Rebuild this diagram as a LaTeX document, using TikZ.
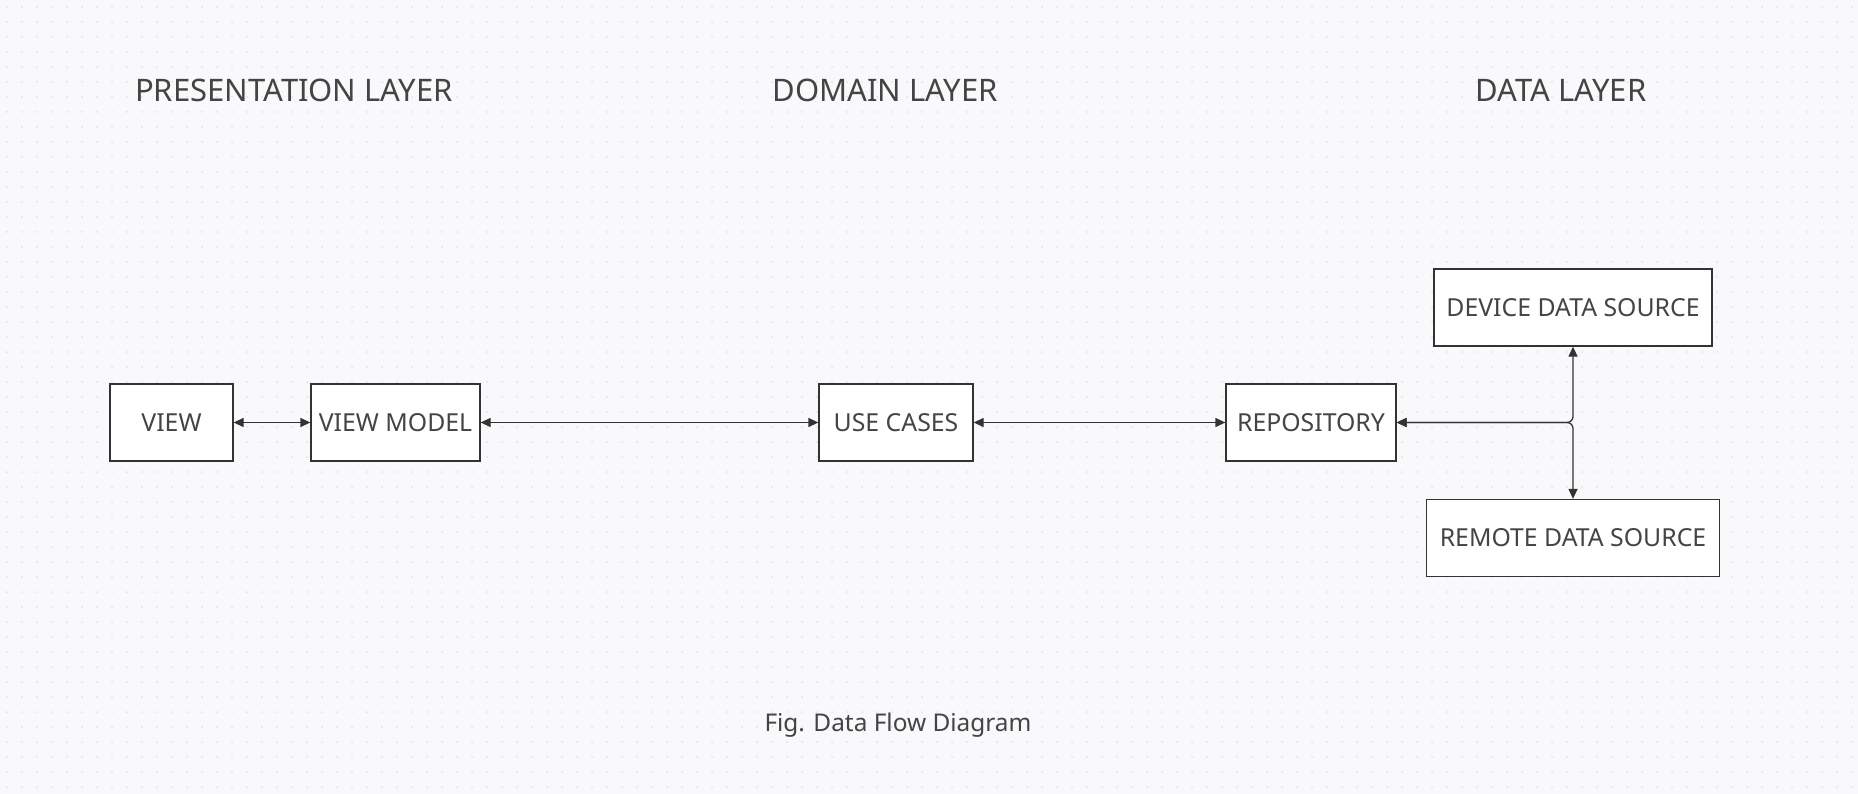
\documentclass[tikz,border=0pt]{standalone}
\usepackage{fontspec}
\setmainfont{Noto Sans}
\usetikzlibrary{arrows.meta}

\definecolor{paper}{HTML}{F9F9FB}
\definecolor{dotgray}{HTML}{E2E2E8}
\definecolor{ink}{HTML}{333333}
\definecolor{textgray}{HTML}{444444}

\begin{document}
\begin{tikzpicture}[x=1pt,y=-1pt]
		\newcommand{\rowy}{422.5} % centre line of the main row
		\newcommand{\boxh}{77} % height of the boxes
		\newcommand{\dsx}{1573} % centre of the data sources

		% set the styles of boxes, titles and connectors
		\tikzset{
			block/.style={
				draw=ink,
				fill=white,
				line width=1.3pt,
				minimum height=\boxh pt,
				inner sep=0pt,
				text=textgray,
				font=\fontsize{24.8}{28}\selectfont
				},
			layer/.style={
				text=textgray,
				font=\fontsize{31}{36}\selectfont
				},
			flow/.style={
				{Triangle[length=10pt,width=9pt]}-{Triangle[length=10pt,width=9pt]},
				draw=ink,
				line width=1.3pt
				},
			griddot/.style={
				draw=dotgray,
				line width=2pt,
				line cap=round,
				dash pattern=on 0pt off 15pt
				}
		}

		% background
		\fill[paper] (0,0) rectangle (1858,794);
		\useasboundingbox (0,0) rectangle (1858,794);
		\foreach \y in {7,22,...,794}
		  \draw[griddot] (7,\y) -- (1858,\y);

		% layer titles
		\node[layer] (presentation) at (294,90) {PRESENTATION LAYER};
		\node[layer] (domain) at (885,90) {DOMAIN LAYER};
		\node[layer] (data) at (1561,90) {DATA LAYER};

		% boxes
		\node[block, minimum width=123pt] (view) at (171.5,\rowy) {VIEW};
		\node[block, minimum width=169pt] (viewmodel) at (395.5,\rowy) {VIEW MODEL};
		\node[block, minimum width=154pt] (usecases) at (896,\rowy) {USE CASES};
		\node[block, minimum width=170pt] (repository) at (1311,\rowy) {REPOSITORY};
		\node[block, minimum width=278pt] (device) at (\dsx,307.5) {DEVICE DATA SOURCE};
		\node[block, minimum width=293pt] (remote) at (\dsx,538) {REMOTE DATA SOURCE};

		% connectors
		\draw[flow] (view) -- (viewmodel);
		\draw[flow] (viewmodel) -- (usecases);
		\draw[flow] (usecases) -- (repository);
		\draw[flow, rounded corners=6pt] (repository.east) -| (device.south);
		\draw[flow, rounded corners=6pt] (repository.east) -| (remote.north);

		% caption
		\node[text=textgray, font=\fontsize{24.4}{28}\selectfont] (caption) at (898,725) {Fig. Data Flow Diagram};
\end{tikzpicture}
\end{document}
